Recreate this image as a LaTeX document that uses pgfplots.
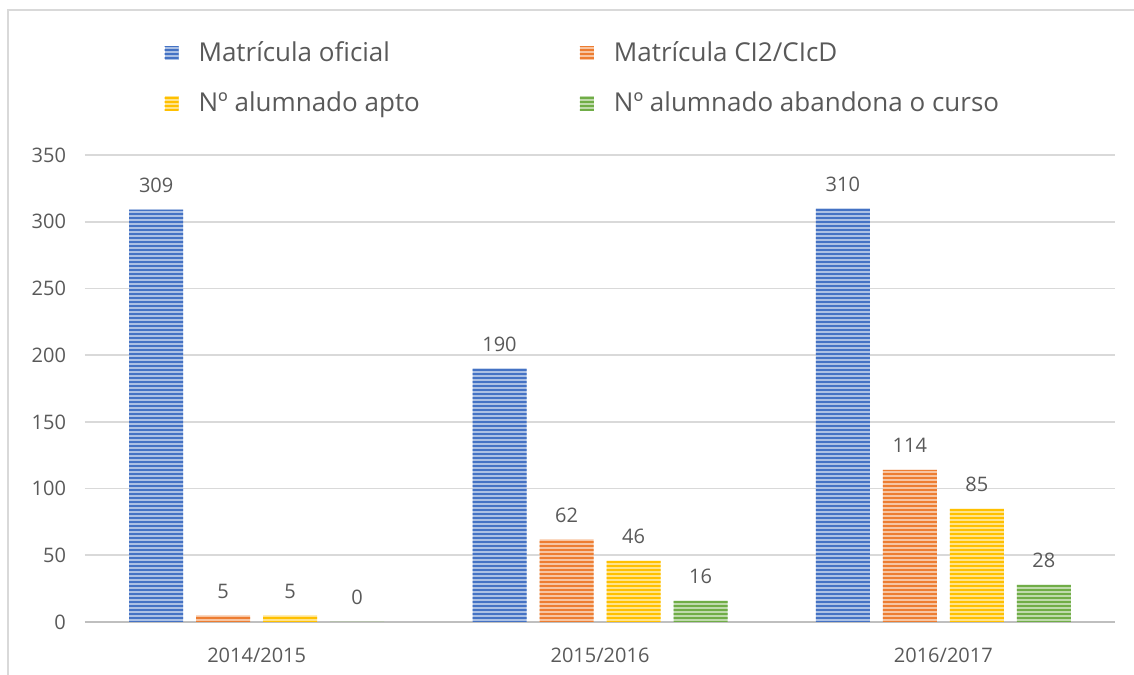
\documentclass[border=0pt]{standalone}
\usepackage{fontspec}
\setmainfont{Open Sans}
\usepackage{pgfplots}
\pgfplotsset{compat=1.18}
\usetikzlibrary{patterns.meta}
\definecolor{cb}{HTML}{4472C4}
\definecolor{co}{HTML}{ED7D31}
\definecolor{cy}{HTML}{FFC000}
\definecolor{cg}{HTML}{70AD47}
\definecolor{txt}{HTML}{595959}
\definecolor{grd}{HTML}{D9D9D9}
\definecolor{axl}{HTML}{BFBFBF}
\tikzset{
  striped/.style={fill=#1!45!white, draw=none,
    postaction={pattern={Lines[angle=0,distance=2pt,line width=0.9pt]}, pattern color=#1}}
}
\begin{document}
\begin{tikzpicture}
\path[use as bounding box] (0,0) rectangle (567pt,337pt);
\draw[grd, line width=1pt] (4pt,-10pt) rectangle (580pt,332pt);
\begin{axis}[
  at={(42.5pt,26pt)}, anchor=south west,
  scale only axis, width=515pt, height=233.5pt,
  ybar=6.5pt, bar width=27pt,
  xmin=-0.5, xmax=2.5, ymin=0, ymax=350,
  xtick={0,1,2}, xticklabels={2014/2015,2015/2016,2016/2017},
  ytick={0,50,...,350},
  major tick length=0pt,
  ymajorgrids, grid style={grd, line width=0.8pt},
  axis x line*=bottom, axis y line*=left,
  y axis line style={draw=none},
  x axis line style={axl, line width=1.2pt},
  tick label style={txt, font=\fontsize{10}{12}\selectfont},
  /pgf/number format/assume math mode=true,
  yticklabel style={xshift=-6pt},
  xticklabel style={yshift=-9.5pt},
  nodes near coords,
  nodes near coords style={txt, font=\fontsize{10}{12}\selectfont, yshift=5pt},
  legend columns=2,
  legend style={at={(0.071,1.26)}, anchor=north west, draw=none, fill=none,
    font=\fontsize{13}{15.5}\selectfont, text=txt, row sep=9.5pt,
    /tikz/every even column/.append style={column sep=78pt}},
  legend cell align=left,
  legend image code/.code={\path[#1] (0pt,-3.5pt) rectangle (7pt,3.5pt); \path (15pt,0pt);},
]
\addplot[striped=cb] coordinates {(0,309) (1,190) (2,310)};
\addplot[striped=co] coordinates {(0,5) (1,62) (2,114)};
\addplot[striped=cy] coordinates {(0,5) (1,46) (2,85)};
\addplot[striped=cg] coordinates {(0,0) (1,16) (2,28)};
\legend{Matrícula oficial, Matrícula CI2/CIcD, Nº alumnado apto, Nº alumnado abandona o curso}
\end{axis}
\end{tikzpicture}
\end{document}
